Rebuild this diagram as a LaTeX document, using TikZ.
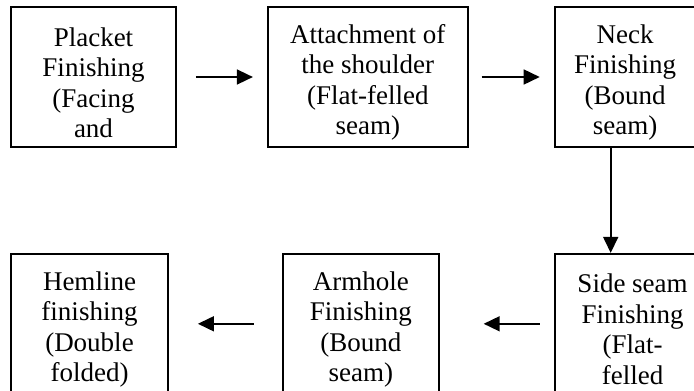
\documentclass[tikz,border=0pt]{standalone}
\usepackage{fontspec}
\setmainfont{Liberation Serif}
\usepackage{tikz}
\usetikzlibrary{arrows.meta,positioning}
\newcommand{\topgap}{\rule{0pt}{30pt}}

\begin{document}
\begin{tikzpicture}[
  x=1pt,y=1pt,
  font=\fontsize{27}{30.5}\selectfont,
  stage/.style={draw=black,line width=1.8pt,minimum height=140pt,inner sep=0pt,align=center},
  arr/.style={-{Triangle[length=16pt,width=15pt]},line width=1.6pt,draw=black}
]
\fill[white] (0,0) rectangle (694,-391);
\useasboundingbox (0,0) rectangle (694,-391);
\clip (0,0) rectangle (694,-391);

% top row
\node[stage,minimum width=165pt] (placket) at (93.5,-77) {\topgap Placket\\Finishing\\(Facing\\and};
\node[stage,minimum width=200pt,right=90pt of placket] (attach) {\topgap Attachment of\\the shoulder\\(Flat-felled\\seam)};
\node[stage,minimum width=141pt,right=85pt of attach] (neck) {\topgap Neck\\Finishing\\(Bound\\seam)};

% bottom row
\node[stage,minimum width=156pt,below=105pt of neck.south west,anchor=north west] (side) {\topgap Side seam\\Finishing\\(Flat-\\felled};
\node[stage,minimum width=156pt,left=114pt of side] (armhole) {\topgap Armhole\\Finishing\\(Bound\\seam)};
\node[stage,minimum width=157pt,left=113pt of armhole] (hemline) {\topgap Hemline\\finishing\\(Double\\folded)};

\draw[arr,shorten <=19pt,shorten >=14pt] (placket.east) -- (attach.west);
\draw[arr,shorten <=13pt,shorten >=14pt] (attach.east) -- (neck.west);
\draw[arr] ([xshift=57pt]neck.south west) -- ([xshift=57pt]side.north west);
\draw[arr,shorten <=14pt,shorten >=44pt] (side.west) -- (armhole.east);
\draw[arr,shorten <=28pt,shorten >=29pt] (armhole.west) -- (hemline.east);
\end{tikzpicture}
\end{document}
